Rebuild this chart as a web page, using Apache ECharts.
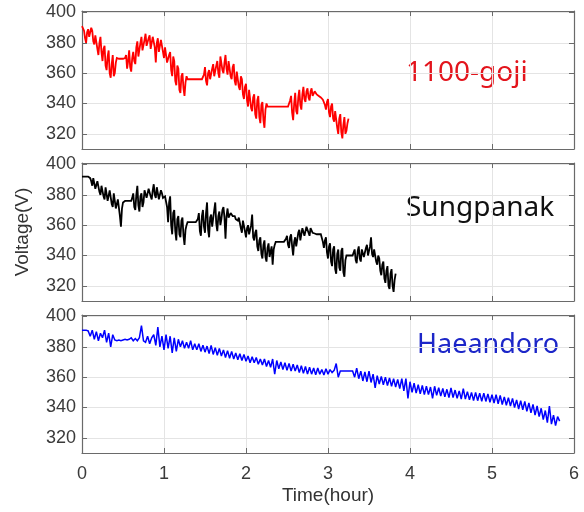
<!DOCTYPE html>
<html>
<head>
<meta charset="utf-8">
<script src="https://cdn.jsdelivr.net/npm/echarts@6/dist/echarts.min.js"></script>
<style>
  html, body { margin: 0; padding: 0; background: #fff; }
  #chart { width: 584px; height: 512px; }
</style>
</head>
<body>
<div id="chart"></div>
<script>
  // sample step of each record (hours)
  var gojiStep = 0.0125
  var sungStep = 0.0125
  var haeStep = 0.025
  var xTicks = [0, 1, 2, 3, 4, 5, 6]
  var yTicks = [320, 340, 360, 380, 400]
  var routeNames = ['1100-goji', 'Sungpanak', 'Haeandoro']

  var gojiVolt = [
    391, 390, 388, 383, 380, 387, 389, 384, 383, 390, 388, 381, 379, 385, 386, 376, 372, 380, 384, 374,
    368, 376, 378, 365, 362, 371, 375, 360, 357, 366, 372, 358, 360, 367, 370, 369.5, 369.5, 369.5, 369.5, 369.5,
    369.5, 369.5, 370, 372, 363, 368, 375, 364, 361, 370, 374, 368, 366, 377, 381, 371, 372, 380, 384, 375,
    376, 382, 386, 378, 377, 383, 385, 376, 376, 384, 384, 377, 367, 380, 383, 374, 375, 382, 381, 374,
    370, 377, 378, 367, 366, 372, 374, 362, 358, 371, 368, 355, 352, 365, 363, 349, 347, 358, 360, 350,
    345, 354, 358, 356, 356, 356, 356, 356, 356, 356, 356, 356, 356.5, 356, 356, 356, 357, 356, 356, 359,
    364, 355, 352, 360, 362, 356, 355, 363, 366, 358, 357, 365, 368, 360, 357, 371, 370, 362, 360, 367,
    372, 363, 359, 368, 369, 358, 356, 364, 366, 355, 352, 361, 362, 351, 349, 358, 356, 346, 343, 351,
    353, 342, 338, 349, 350, 337, 335, 344, 346, 333, 330, 342, 345, 331, 327, 339, 341, 329, 324, 336,
    340, 338, 338, 338, 338, 338, 338, 338, 338, 338, 338, 338, 338.5, 338, 338, 338, 338, 338, 339, 338,
    338, 338, 338, 342, 345, 334, 329, 340, 347, 335, 333, 344, 349, 339, 336, 346, 351, 343, 341, 348,
    350, 344, 342, 348, 350, 345, 344, 348, 349, 346, 345.5, 345, 344.5, 344, 343, 342.5, 342, 339, 336, 341,
    343, 334, 331, 338, 340, 330, 328, 335, 336, 324, 320, 330, 333, 321, 317, 326, 331, 320, 322, 327,
    330
  ]

  var sungVolt = [
    392, 392, 392, 392, 392, 392, 392, 391.5, 391, 389, 386, 391, 390, 384, 383, 389, 388, 382, 380, 386,
    386, 379, 377, 385, 384, 376, 375, 383, 382, 374, 372, 381, 380, 371, 370, 377, 378, 366, 359, 371,
    375, 376, 376, 376, 376, 376, 376, 376, 376, 378, 381, 372, 370, 380, 386, 373, 369, 379, 381, 372,
    375, 383, 384, 378, 377, 384, 385, 379, 377, 383, 387, 380, 378, 385, 384, 377, 376, 383, 381, 378,
    378, 379, 380, 372, 362, 375, 379, 360, 354, 368, 370, 356, 350, 364, 366, 354, 352, 363, 365, 353,
    347, 357, 360, 362, 362, 362, 362, 362, 362, 362, 362, 362, 362, 364, 368, 356, 353, 366, 370, 359,
    355, 368, 375, 357, 352, 365, 367, 359, 358, 370, 375, 361, 356, 366, 369, 360, 364, 370, 372, 365,
    351, 366, 371, 365, 364, 368, 369, 366, 365, 366, 364, 365, 363, 365, 366, 358, 355, 363, 364, 356,
    352, 358, 360, 354, 353, 360, 367, 352, 350, 355, 357, 346, 343, 350, 352, 341, 338, 347, 350, 339,
    336, 345, 348, 339, 340, 346, 334, 344, 347, 349, 349, 349, 349, 349, 349, 349, 349, 349, 350, 351,
    353, 347, 345, 352, 354, 346, 340, 349, 352, 346, 347, 355, 357, 350, 351, 358, 359, 353, 352, 359,
    360, 355, 353, 358, 358, 355, 355, 354.5, 354, 354, 354, 354, 354, 354, 353, 349, 345, 350, 352, 342,
    338, 346, 348, 336, 333, 344, 346, 331, 328, 341, 344, 332, 330, 343, 345, 329, 326, 337, 340, 340,
    340, 340, 340, 340, 340, 341, 344, 337, 335, 343, 346, 338, 336, 344, 345, 339, 338, 345, 347, 340,
    341, 346, 352, 341, 339, 344, 343, 336, 334, 340, 338, 330, 327, 334, 336, 325, 322, 330, 333, 320,
    318, 328, 331, 320, 316, 324, 328
  ]

  var haeVolt = [
    391, 391, 391, 390.5, 387, 391, 385, 390, 384, 389,
    386, 391, 383, 389, 380, 388, 384.5, 384, 384.5, 384,
    384.5, 385, 384.5, 385, 386, 384, 385.5, 384, 386, 394,
    384, 383, 387, 382, 386, 388, 381, 393, 380, 387,
    378, 388, 379, 387, 376, 386, 377, 385, 380, 384,
    379, 383, 379, 384, 378, 382, 378, 382, 377, 381,
    376.5, 380.5, 375.5, 381, 375, 379.5, 374.5, 379, 374, 378,
    373, 377.5, 372.5, 377, 372, 376, 371.5, 375.5, 371, 375,
    370.5, 374, 369.5, 373.5, 369.5, 373, 368.5, 372, 368, 372,
    367, 371, 366.5, 372, 362, 371, 365.5, 370, 365, 369.5,
    364.5, 369, 364, 368.5, 364, 368, 363, 367.5, 362.5, 367,
    362, 366.5, 362, 366, 361.5, 366, 362, 365, 361.5, 365.5,
    362, 365, 363, 364.5, 369, 360, 364, 364, 364, 364,
    364, 364, 364, 360, 366, 359, 364, 357.5, 363.5, 357,
    364, 356.5, 362, 353, 361, 355.5, 360.5, 355, 360, 354.5,
    359.5, 354, 359, 353.5, 358.5, 352.5, 359, 351, 359, 346,
    357, 350, 356, 349.5, 355, 349, 354.5, 348.5, 354, 348.5,
    353.5, 346, 354, 348, 353, 347.5, 352.5, 347, 352, 346.5,
    353, 346.5, 351.5, 346, 351, 345.5, 352.5, 345.5, 350.5, 345,
    350, 344.5, 350, 344.5, 349.5, 344, 349.5, 344, 349, 343.5,
    348.5, 343, 348.5, 342.5, 348, 342, 347, 341.5, 346.5, 341,
    346, 340, 345, 339, 344.5, 338.5, 344, 337.5, 343, 336.5,
    342, 335, 341, 334, 339.5, 332, 338, 330, 341, 329,
    335, 328, 334, 331
  ]

  var lineColors = ['#ff0000', '#000000', '#0000ff']
  var lineWidths = [1.8, 1.8, 1.5]
  var nameColors = ['#e3141c', '#111111', '#1c26c8']
  var FONT = '"Liberation Sans", Arial, sans-serif'
  var frameColor = '#6a6a6a'

  function toPairs(vals, step) {
    var out = []
    for (var i = 0; i < vals.length; i++) {
      out.push([i * step, vals[i]])
    }
    return out
  }

  var gridTops = [11, 163, 315]
  var grids = []
  var xAxes = []
  var yAxes = []
  var series = []
  var allVolt = [gojiVolt, sungVolt, haeVolt]
  var allSteps = [gojiStep, sungStep, haeStep]

  for (var g = 0; g < 3; g++) {
    grids.push({ left: 82, top: gridTops[g], width: 492, height: 138 })
    ;['bottom', 'top'].forEach(function (pos) {
      var isMain = pos === 'bottom'
      xAxes.push({
        type: 'value',
        gridIndex: g,
        position: pos,
        min: 0,
        max: 6,
        interval: 1,
        name: isMain && g === 2 ? 'Time(hour)' : '',
        nameLocation: 'middle',
        nameGap: 33,
        nameTextStyle: { color: '#333', fontSize: 19, fontFamily: FONT },
        axisLine: { show: true, onZero: false, lineStyle: { color: frameColor, width: 1.2 } },
        axisTick: { show: true, inside: true, length: 5, lineStyle: { color: frameColor } },
        axisLabel: {
          show: isMain && g === 2,
          color: '#3a3a3a',
          fontSize: 18,
          fontFamily: FONT,
          margin: 12,
        },
        splitLine: { show: isMain, lineStyle: { color: '#e4e4e4' } },
      })
    })
    ;['left', 'right'].forEach(function (pos) {
      var isMain = pos === 'left'
      yAxes.push({
        type: 'value',
        gridIndex: g,
        position: pos,
        min: 310,
        max: 401,
        axisLine: { show: true, onZero: false, lineStyle: { color: frameColor, width: 1.2 } },
        axisTick: {
          show: true,
          inside: true,
          length: 5,
          customValues: yTicks,
          lineStyle: { color: frameColor },
        },
        axisLabel: {
          show: isMain,
          customValues: yTicks,
          color: '#3a3a3a',
          fontSize: 18,
          fontFamily: FONT,
          margin: 6,
        },
        splitLine: { show: isMain, lineStyle: { color: '#e4e4e4' } },
      })
    })
    series.push({
      name: routeNames[g],
      type: 'line',
      xAxisIndex: g * 2,
      yAxisIndex: g * 2,
      showSymbol: false,
      symbol: 'none',
      lineStyle: { color: lineColors[g], width: lineWidths[g], join: 'miter', miterLimit: 2 },
      data: toPairs(allVolt[g], allSteps[g]),
    })
  }

  var chart = echarts.init(document.getElementById('chart'))
  chart.setOption({
    animation: false,
    backgroundColor: '#fff',
    grid: grids,
    xAxis: xAxes,
    yAxis: yAxes,
    series: series,
    graphic: [
      {
        type: 'text', left: 406, top: 59,
        style: { text: routeNames[0], fill: nameColors[0], font: '28px "Noto Sans", sans-serif' },
      },
      {
        type: 'text', left: 406, top: 194,
        style: { text: routeNames[1], fill: nameColors[1], font: '28px "Noto Sans", sans-serif' },
      },
      {
        type: 'text', left: 417, top: 332,
        style: { text: routeNames[2], fill: nameColors[2], font: '27px "Noto Sans", sans-serif' },
      },
      {
        type: 'text', x: 23, y: 232, rotation: Math.PI / 2,
        style: {
          text: 'Voltage(V)', fill: '#333', font: '19px ' + FONT,
          align: 'center', verticalAlign: 'middle',
        },
      },
    ],
  })
</script>
</body>
</html>
